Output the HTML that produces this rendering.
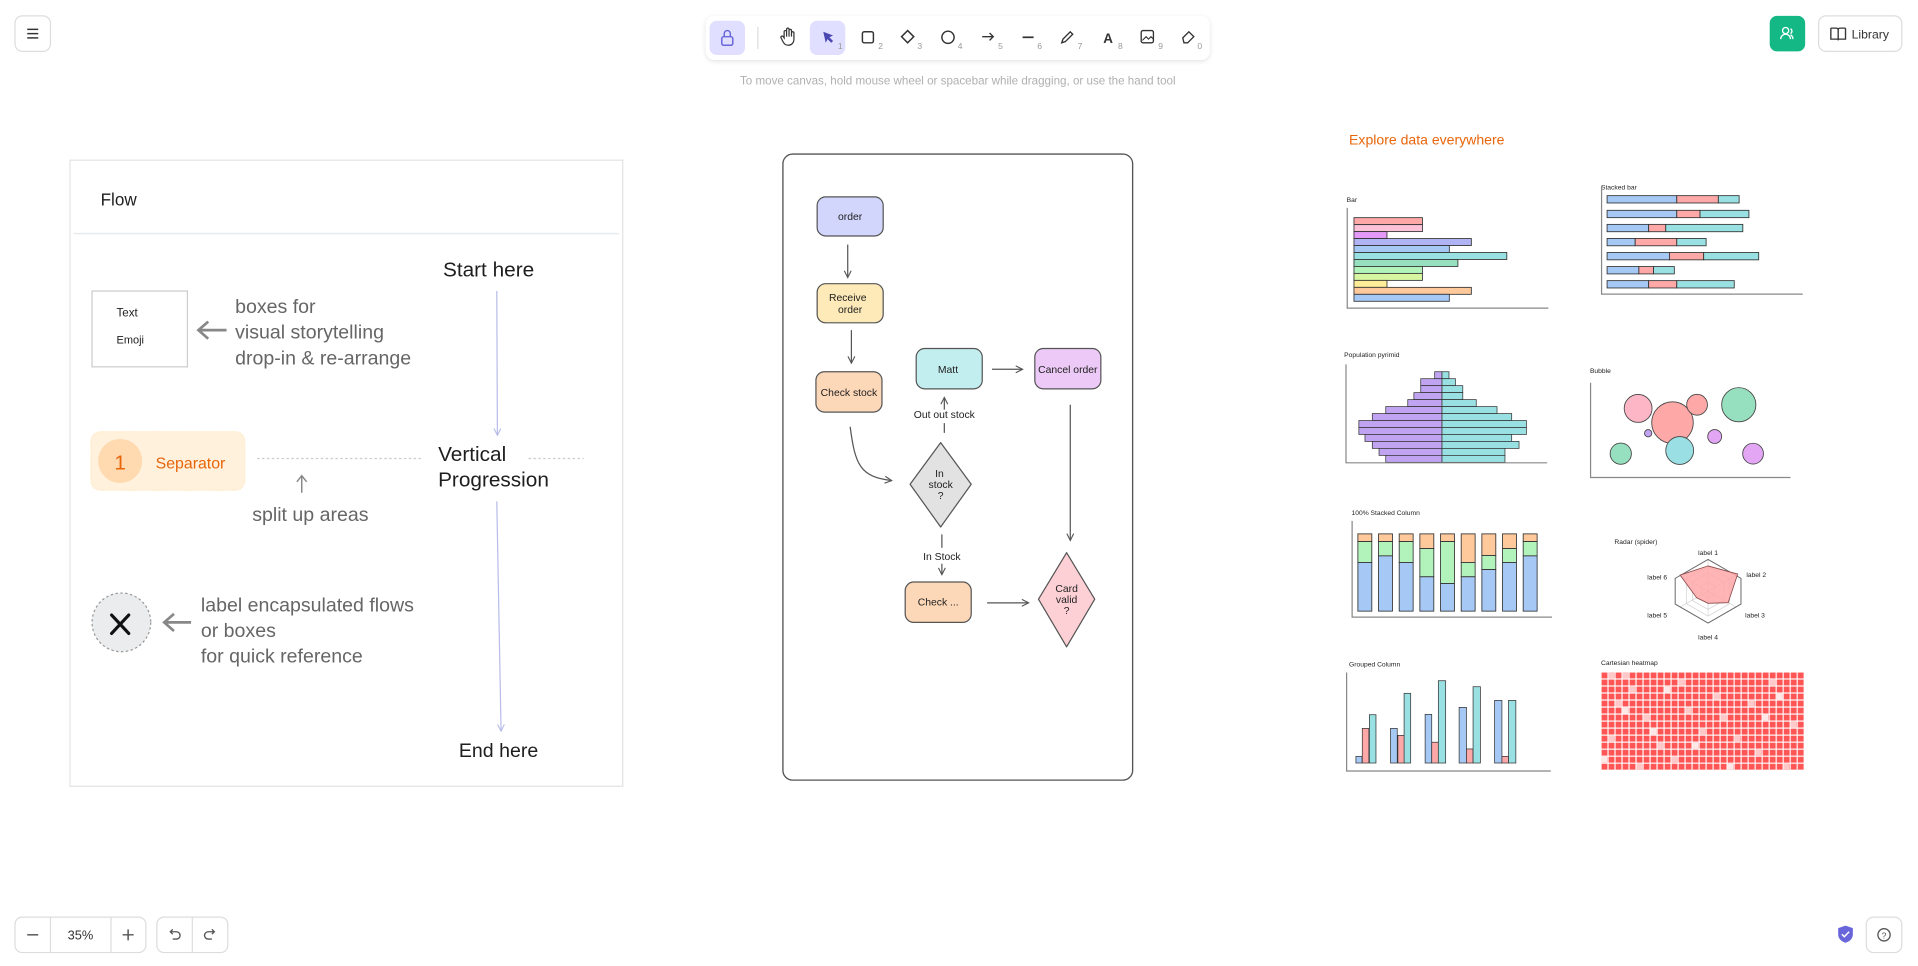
<!DOCTYPE html>
<html><head><meta charset="utf-8"><style>
html,body{margin:0;padding:0;background:#fff;overflow:hidden}
svg{display:block}
text{font-family:"Liberation Sans",sans-serif}
</style></head><body>
<svg width="1918" height="966" viewBox="0 0 1568 790" xmlns="http://www.w3.org/2000/svg">
<defs>
<marker id="ah" viewBox="0 0 10 10" refX="9" refY="5" markerWidth="7" markerHeight="7" orient="auto"><path d="M1 1L9 5L1 9" fill="none" stroke="#555" stroke-width="1.3"/></marker>
<marker id="ahl" viewBox="0 0 10 10" refX="9" refY="5" markerWidth="7" markerHeight="7" orient="auto"><path d="M1 1L9 5L1 9" fill="none" stroke="#b8bde8" stroke-width="1.3"/></marker>
<pattern id="hm" x="1309" y="549.5" width="5.73" height="5.74" patternUnits="userSpaceOnUse"><rect x="0.5" y="0.5" width="4.8" height="4.8" fill="#f55"/></pattern>
<filter id="sh" x="-10%" y="-30%" width="120%" height="160%"><feDropShadow dx="0" dy="1" stdDeviation="2" flood-color="#000" flood-opacity="0.12"/></filter>
</defs>

<!-- Top UI -->
<rect x="12" y="13" width="29" height="29" rx="6" fill="#fff" stroke="#ddd"/>
<g stroke="#333" stroke-width="1.2"><line x1="22" y1="24" x2="31" y2="24"/><line x1="22" y1="27.5" x2="31" y2="27.5"/><line x1="22" y1="31" x2="31" y2="31"/></g>

<rect x="577" y="13" width="412" height="36" rx="7" fill="#fff" filter="url(#sh)"/>
<rect x="580" y="17" width="29" height="28" rx="6" fill="#e0dfff"/>
<rect x="590" y="30" width="9" height="7" rx="1.5" fill="none" stroke="#6965db" stroke-width="1.2"/>
<path d="M592 30v-2.5a2.5 2.5 0 0 1 5 0V30" fill="none" stroke="#6965db" stroke-width="1.2"/>
<line x1="619.5" y1="22" x2="619.5" y2="40" stroke="#ddd"/>
<path d="M641 31v-5a1 1 0 0 1 2 0v4v-6a1 1 0 0 1 2 0v6v-5a1 1 0 0 1 2 0v5v-3a1 1 0 0 1 2 0v5c0 3-2 5-4.5 5s-3.5-1-5-4l-1-2a1 1 0 0 1 1.8-1z" fill="none" stroke="#333" stroke-width="1"/>
<rect x="662" y="17" width="29" height="28" rx="6" fill="#e0dfff"/>
<path d="M673 26l8 3-3 1.5 3 3-1.5 1.5-3-3-1.5 3z" fill="#4a47b1"/>
<text x="685" y="40" font-size="7" fill="#999">1</text>
<rect x="705" y="26" width="9" height="9" rx="1.5" fill="none" stroke="#333" stroke-width="1.2"/><text x="718" y="40" font-size="7" fill="#999">2</text>
<path d="M742 25l5 5-5 5-5-5z" fill="none" stroke="#333" stroke-width="1.2"/><text x="750" y="40" font-size="7" fill="#999">3</text>
<circle cx="775" cy="30.5" r="5" fill="none" stroke="#333" stroke-width="1.2"/><text x="783" y="40" font-size="7" fill="#999">4</text>
<path d="M803 30h9m-3-3l3 3-3 3" fill="none" stroke="#333" stroke-width="1.1"/><text x="816" y="40" font-size="7" fill="#999">5</text>
<line x1="836" y1="30.5" x2="845" y2="30.5" stroke="#333" stroke-width="1.4"/><text x="848" y="40" font-size="7" fill="#999">6</text>
<path d="M868 35l1-3 6-6 2 2-6 6z" fill="none" stroke="#333" stroke-width="1.1"/><text x="881" y="40" font-size="7" fill="#999">7</text>
<text x="906" y="35" font-size="11" text-anchor="middle" fill="#333" font-weight="bold">A</text><text x="914" y="40" font-size="7" fill="#999">8</text>
<rect x="933" y="25" width="10" height="10" rx="1.5" fill="none" stroke="#333" stroke-width="1.1"/><path d="M934 33l3-3 2 2 2-2 2 2" fill="none" stroke="#333" stroke-width="0.9"/><text x="947" y="40" font-size="7" fill="#999">9</text>
<path d="M967 31l5-5 4 4-5 5h-3z" fill="none" stroke="#333" stroke-width="1.1"/><text x="979" y="40" font-size="7" fill="#999">0</text>
<text x="783" y="69" font-size="9.5" text-anchor="middle" fill="#b0b0b0">To move canvas, hold mouse wheel or spacebar while dragging, or use the hand tool</text>

<rect x="1447" y="13" width="29" height="29" rx="6" fill="#13b884"/>
<circle cx="1460" cy="25" r="2.5" fill="none" stroke="#fff" stroke-width="1.1"/><path d="M1456 32a4 4 0 0 1 8 0" fill="none" stroke="#fff" stroke-width="1.1"/><path d="M1464 23.5a2.3 2.3 0 0 1 0 4M1466 32a4 4 0 0 0-2-3.5" fill="none" stroke="#fff" stroke-width="1.1"/>
<rect x="1487" y="13" width="68" height="29" rx="6" fill="#fff" stroke="#ddd"/>
<path d="M1497 23h4.5a1.5 1.5 0 0 1 1.5 1.5V33M1509 23h-4.5a1.5 1.5 0 0 0-1.5 1.5M1497 23v9h6 6v-9" fill="none" stroke="#333" stroke-width="1.1"/>
<text x="1514" y="31.5" font-size="10" fill="#333">Library</text>

<!-- Bottom UI -->
<rect x="12" y="750" width="107" height="29" rx="6" fill="#fff" stroke="#ddd"/>
<line x1="41" y1="750" x2="41" y2="779" stroke="#ddd"/><line x1="90.5" y1="750" x2="90.5" y2="779" stroke="#ddd"/>
<line x1="22" y1="764.5" x2="31" y2="764.5" stroke="#555" stroke-width="1.2"/>
<text x="65.5" y="768.5" font-size="10.5" text-anchor="middle" fill="#333">35%</text>
<path d="M100 764.5h9M104.5 760v9" stroke="#555" stroke-width="1.2"/>
<rect x="128" y="750" width="58" height="29" rx="6" fill="#fff" stroke="#ddd"/>
<line x1="157" y1="750" x2="157" y2="779" stroke="#ddd"/>
<path d="M139 762h5a3 3 0 0 1 0 6h-3M141 760l-2 2 2 2" fill="none" stroke="#555" stroke-width="1.1"/>
<path d="M175 762h-5a3 3 0 0 0 0 6h3M173 760l2 2-2 2" fill="none" stroke="#555" stroke-width="1.1"/>
<path d="M1509 757l6 2v5c0 4-3 6-6 7-3-1-6-3-6-7v-5z" fill="#6965db"/>
<path d="M1506 764l2 2 4-4" fill="none" stroke="#fff" stroke-width="1.2"/>
<rect x="1526" y="750" width="29" height="29" rx="6" fill="#fff" stroke="#ddd"/>
<circle cx="1540.5" cy="764.5" r="5" fill="none" stroke="#555" stroke-width="1.1"/><text x="1540.5" y="767.5" font-size="7" text-anchor="middle" fill="#555">?</text>

<!-- Left panel -->
<rect x="57" y="131" width="452" height="512" fill="none" stroke="#e3e3e3"/>
<text x="82" y="168" font-size="14" fill="#1e1e1e">Flow</text>
<line x1="60" y1="191" x2="506" y2="191" stroke="#e6e9ee" stroke-width="1.2"/>
<text x="362" y="226" font-size="17" fill="#1e1e1e">Start here</text>
<rect x="75" y="238" width="78" height="62" fill="#fff" stroke="#ccc"/>
<text x="95" y="259" font-size="9.5" fill="#1e1e1e">Text</text>
<text x="95" y="281" font-size="9" fill="#1e1e1e">Emoji</text>
<path d="M185 270H162m8-7l-8 7 8 7" fill="none" stroke="#888" stroke-width="2.2"/>
<g font-size="16" fill="#666"><text x="192" y="256">boxes for</text><text x="192" y="277">visual storytelling</text><text x="192" y="298">drop-in &amp; re-arrange</text></g>
<line x1="406" y1="238" x2="406.5" y2="356" stroke="#b8bde8" stroke-width="1" marker-end="url(#ahl)"/>
<rect x="74" y="353" width="126" height="48" rx="8" fill="#fff1dc" stroke="#ffe8c4" stroke-dasharray="1 1"/>
<circle cx="98" cy="377" r="18" fill="#ffd9b0"/>
<text x="98" y="384" font-size="17" text-anchor="middle" fill="#e8650a">1</text>
<text x="127" y="383" font-size="13" fill="#e8650a">Separator</text>
<line x1="210" y1="375" x2="346" y2="375" stroke="#ccc" stroke-dasharray="2 2"/>
<line x1="432" y1="375" x2="477" y2="375" stroke="#ccc" stroke-dasharray="2 2"/>
<text x="358" y="377" font-size="17" fill="#1e1e1e">Vertical</text>
<text x="358" y="398" font-size="17" fill="#1e1e1e">Progression</text>
<path d="M246.5 403v-14m-4 5l4-5 4 5" fill="none" stroke="#888" stroke-width="1.2"/>
<text x="206" y="426" font-size="16" fill="#666">split up areas</text>
<line x1="406" y1="410" x2="409.5" y2="598" stroke="#b8bde8" stroke-width="1" marker-end="url(#ahl)"/>
<text x="375" y="619" font-size="16" fill="#1e1e1e">End here</text>
<circle cx="99" cy="509" r="24" fill="#ebeced" stroke="#999" stroke-dasharray="2 2"/>
<path d="M91 503l14 15M105 503l-14 15" stroke="#111" stroke-width="2.6" stroke-linecap="round"/>
<path d="M156 509H134m8-7l-8 7 8 7" fill="none" stroke="#888" stroke-width="2.2"/>
<g font-size="16" fill="#666"><text x="164" y="500">label encapsulated flows</text><text x="164" y="521">or boxes</text><text x="164" y="542">for quick reference</text></g>

<!-- Flowchart -->
<rect x="640" y="126" width="286" height="512" rx="8" fill="#fff" stroke="#555" stroke-width="1.1"/>
<g stroke="#555" stroke-width="1">
<rect x="668" y="161" width="54" height="32" rx="7" fill="#d2d5fc"/>
<rect x="668" y="232" width="54" height="32" rx="7" fill="#fdeab8"/>
<rect x="667" y="304" width="54" height="33" rx="7" fill="#fdd8b8"/>
<rect x="749" y="285" width="54" height="33" rx="7" fill="#c3eef0"/>
<rect x="846" y="285" width="54" height="33" rx="7" fill="#ecc9f6"/>
<rect x="740" y="476" width="54" height="33" rx="7" fill="#fdd8b8"/>
<path d="M769 362L794 396L769 431L744 396Z" fill="#e2e2e2" stroke-linejoin="round"/>
<path d="M872 452L895 490L872 529L849 490Z" fill="#fdd0d5" stroke-linejoin="round"/>
</g>
<g font-size="8.5" fill="#1e1e1e" text-anchor="middle">
<text x="695" y="180">order</text>
<text x="693" y="246">Receive</text><text x="695" y="256">order</text>
<text x="694" y="324">Check stock</text>
<text x="775" y="305">Matt</text>
<text x="873" y="305">Cancel order</text>
<text x="767" y="495">Check ...</text>
<text x="768" y="390">In</text><text x="769" y="399">stock</text><text x="769" y="408">?</text>
<text x="872" y="484">Card</text><text x="872" y="493">valid</text><text x="872" y="502">?</text>
<text x="772" y="342">Out out stock</text>
<text x="770" y="458">In Stock</text>
</g>
<g fill="none" stroke="#555" stroke-width="1">
<line x1="693" y1="200" x2="693" y2="227" marker-end="url(#ah)"/>
<line x1="696" y1="270" x2="696" y2="297" marker-end="url(#ah)"/>
<path d="M695 349C699 380 703 390 729 393" marker-end="url(#ah)"/>
<line x1="772" y1="354" x2="772" y2="346"/>
<line x1="772" y1="335" x2="772" y2="325" marker-end="url(#ah)"/>
<line x1="811" y1="302" x2="836" y2="302" marker-end="url(#ah)"/>
<line x1="875" y1="331" x2="875" y2="442" marker-end="url(#ah)"/>
<line x1="770" y1="437" x2="770" y2="448"/>
<line x1="770" y1="461" x2="770" y2="470" marker-end="url(#ah)"/>
<line x1="807" y1="493" x2="841" y2="493" marker-end="url(#ah)"/>
</g>

<!-- Charts -->
<text x="1103" y="118" font-size="11.5" fill="#e8650a">Explore data everywhere</text>
<g font-size="5.5" fill="#1e1e1e">
<text x="1101" y="165">Bar</text>
<text x="1309" y="155">Stacked bar</text>
<text x="1099" y="292">Population pyrimid</text>
<text x="1300" y="305">Bubble</text>
<text x="1105" y="421">100% Stacked Column</text>
<text x="1320" y="445">Radar (spider)</text>
<text x="1103" y="545">Grouped Column</text>
<text x="1309" y="544">Cartesian heatmap</text>
</g>
<!-- Bar -->
<g stroke="#333" stroke-width="0.7">
<rect x="1107" y="178" width="56" height="5.7" fill="#ffa8a8"/>
<rect x="1107" y="183.7" width="56" height="5.7" fill="#fcc2d7"/>
<rect x="1107" y="189.4" width="27" height="5.7" fill="#e599f7"/>
<rect x="1107" y="195.1" width="96" height="5.7" fill="#b0b4f5"/>
<rect x="1107" y="200.8" width="78" height="5.7" fill="#a5c8f5"/>
<rect x="1107" y="206.5" width="125" height="5.7" fill="#99e0e3"/>
<rect x="1107" y="212.2" width="85" height="5.7" fill="#96dfbf"/>
<rect x="1107" y="217.9" width="56" height="5.7" fill="#b2f2bb"/>
<rect x="1107" y="223.6" width="56" height="5.7" fill="#d8f5a2"/>
<rect x="1107" y="229.3" width="27" height="5.7" fill="#ffec99"/>
<rect x="1107" y="235" width="96" height="5.7" fill="#ffc99b"/>
<rect x="1107" y="240.7" width="78" height="5.7" fill="#a5c8f5"/>
</g>
<path d="M1101.5 170V252H1266" fill="none" stroke="#888"/>
<!-- Stacked bar -->
<g stroke="#333" stroke-width="0.7">
<rect x="1314" y="160" width="57" height="6" fill="#a5c8f5"/><rect x="1371" y="160" width="34" height="6" fill="#ffa8a8"/><rect x="1405" y="160" width="17" height="6" fill="#99e0e3"/>
<rect x="1314" y="172" width="57" height="6" fill="#a5c8f5"/><rect x="1371" y="172" width="19" height="6" fill="#ffa8a8"/><rect x="1390" y="172" width="40" height="6" fill="#99e0e3"/>
<rect x="1314" y="183.5" width="34" height="6" fill="#a5c8f5"/><rect x="1348" y="183.5" width="14" height="6" fill="#ffa8a8"/><rect x="1362" y="183.5" width="63" height="6" fill="#99e0e3"/>
<rect x="1314" y="195" width="23" height="6" fill="#a5c8f5"/><rect x="1337" y="195" width="34" height="6" fill="#ffa8a8"/><rect x="1371" y="195" width="24" height="6" fill="#99e0e3"/>
<rect x="1314" y="206.5" width="51" height="6" fill="#a5c8f5"/><rect x="1365" y="206.5" width="28" height="6" fill="#ffa8a8"/><rect x="1393" y="206.5" width="45" height="6" fill="#99e0e3"/>
<rect x="1314" y="218" width="26" height="6" fill="#a5c8f5"/><rect x="1340" y="218" width="12" height="6" fill="#ffa8a8"/><rect x="1352" y="218" width="17" height="6" fill="#99e0e3"/>
<rect x="1314" y="229.5" width="34" height="6" fill="#a5c8f5"/><rect x="1348" y="229.5" width="23" height="6" fill="#ffa8a8"/><rect x="1371" y="229.5" width="47" height="6" fill="#99e0e3"/>
</g>
<path d="M1309.5 152V240.5H1474" fill="none" stroke="#888"/>
<!-- Pyramid -->
<g stroke="#333" stroke-width="0.6">
<rect x="1173" y="304" width="6" height="5.7" fill="#c0a4f2"/><rect x="1179" y="304" width="5.7" height="5.7" fill="#99e0e3"/>
<rect x="1161.6" y="309.7" width="17.4" height="5.7" fill="#c0a4f2"/><rect x="1179" y="309.7" width="11" height="5.7" fill="#99e0e3"/>
<rect x="1161.6" y="315.4" width="17.4" height="5.7" fill="#c0a4f2"/><rect x="1179" y="315.4" width="17" height="5.7" fill="#99e0e3"/>
<rect x="1156" y="321.1" width="23" height="5.7" fill="#c0a4f2"/><rect x="1179" y="321.1" width="17" height="5.7" fill="#99e0e3"/>
<rect x="1151" y="326.8" width="28" height="5.7" fill="#c0a4f2"/><rect x="1179" y="326.8" width="28" height="5.7" fill="#99e0e3"/>
<rect x="1133" y="332.5" width="46" height="5.7" fill="#c0a4f2"/><rect x="1179" y="332.5" width="45" height="5.7" fill="#99e0e3"/>
<rect x="1122" y="338.2" width="57" height="5.7" fill="#c0a4f2"/><rect x="1179" y="338.2" width="57" height="5.7" fill="#99e0e3"/>
<rect x="1111" y="343.9" width="68" height="5.7" fill="#c0a4f2"/><rect x="1179" y="343.9" width="69" height="5.7" fill="#99e0e3"/>
<rect x="1111" y="349.6" width="68" height="5.7" fill="#c0a4f2"/><rect x="1179" y="349.6" width="69" height="5.7" fill="#99e0e3"/>
<rect x="1116" y="355.3" width="63" height="5.7" fill="#c0a4f2"/><rect x="1179" y="355.3" width="57" height="5.7" fill="#99e0e3"/>
<rect x="1122" y="361" width="57" height="5.7" fill="#c0a4f2"/><rect x="1179" y="361" width="63" height="5.7" fill="#99e0e3"/>
<rect x="1127.5" y="366.7" width="51.5" height="5.7" fill="#c0a4f2"/><rect x="1179" y="366.7" width="51.5" height="5.7" fill="#99e0e3"/>
<rect x="1133" y="372.4" width="46" height="5.7" fill="#c0a4f2"/><rect x="1179" y="372.4" width="51.5" height="5.7" fill="#99e0e3"/>
</g>
<path d="M1100.5 298V378.5H1265" fill="none" stroke="#888"/>
<!-- Bubble -->
<g stroke="#444" stroke-width="0.7">
<circle cx="1339.4" cy="334" r="11.4" fill="#fcb6c6"/>
<circle cx="1367.5" cy="345.6" r="17" fill="#ffa8a8"/>
<circle cx="1387.6" cy="331" r="8.5" fill="#ffa8a8"/>
<circle cx="1421.7" cy="331" r="14" fill="#96dfbf"/>
<circle cx="1347.6" cy="354.3" r="3" fill="#c0a4f2"/>
<circle cx="1402" cy="357" r="5.7" fill="#e3a6f5"/>
<circle cx="1325.2" cy="371" r="8.7" fill="#96dfbf"/>
<circle cx="1373.4" cy="368.4" r="11.4" fill="#99dfe3"/>
<circle cx="1433.4" cy="371" r="8.5" fill="#e3a6f5"/>
</g>
<path d="M1300.5 313V390.5H1464" fill="none" stroke="#888"/>
<!-- 100% stacked column -->
<g stroke="#333" stroke-width="0.7">
<rect x="1110.2" y="436.6" width="11.4" height="6.3" fill="#ffc99b"/><rect x="1110.2" y="442.9" width="11.4" height="17.1" fill="#b2f2bb"/><rect x="1110.2" y="460" width="11.4" height="39.8" fill="#a5c8f5"/>
<rect x="1127.1" y="436.6" width="11.4" height="6.3" fill="#ffc99b"/><rect x="1127.1" y="442.9" width="11.4" height="11.7" fill="#b2f2bb"/><rect x="1127.1" y="454.6" width="11.4" height="45.2" fill="#a5c8f5"/>
<rect x="1144" y="436.6" width="11.4" height="6.3" fill="#ffc99b"/><rect x="1144" y="442.9" width="11.4" height="17.1" fill="#b2f2bb"/><rect x="1144" y="460" width="11.4" height="39.8" fill="#a5c8f5"/>
<rect x="1160.9" y="436.6" width="11.4" height="12" fill="#ffc99b"/><rect x="1160.9" y="448.6" width="11.4" height="23.1" fill="#b2f2bb"/><rect x="1160.9" y="471.7" width="11.4" height="28.1" fill="#a5c8f5"/>
<rect x="1177.8" y="436.6" width="11.4" height="6.3" fill="#ffc99b"/><rect x="1177.8" y="442.9" width="11.4" height="34.3" fill="#b2f2bb"/><rect x="1177.8" y="477.2" width="11.4" height="22.6" fill="#a5c8f5"/>
<rect x="1194.7" y="436.6" width="11.4" height="23.4" fill="#ffc99b"/><rect x="1194.7" y="460" width="11.4" height="11.7" fill="#b2f2bb"/><rect x="1194.7" y="471.7" width="11.4" height="28.1" fill="#a5c8f5"/>
<rect x="1211.6" y="436.6" width="11.4" height="17.7" fill="#ffc99b"/><rect x="1211.6" y="454.3" width="11.4" height="11.5" fill="#b2f2bb"/><rect x="1211.6" y="465.8" width="11.4" height="34" fill="#a5c8f5"/>
<rect x="1228.5" y="436.6" width="11.4" height="12" fill="#ffc99b"/><rect x="1228.5" y="448.6" width="11.4" height="11.4" fill="#b2f2bb"/><rect x="1228.5" y="460" width="11.4" height="39.8" fill="#a5c8f5"/>
<rect x="1245.4" y="436.6" width="11.4" height="6.3" fill="#ffc99b"/><rect x="1245.4" y="442.9" width="11.4" height="11.7" fill="#b2f2bb"/><rect x="1245.4" y="454.6" width="11.4" height="45.2" fill="#a5c8f5"/>
</g>
<path d="M1105.5 426V504.7H1269" fill="none" stroke="#888"/>
<!-- Radar -->
<g fill="none" stroke="#ccc" stroke-width="0.5">
<path d="M1396.6 468.6L1409.5 476L1409.5 491L1396.6 498.4L1383.7 491L1383.7 476Z"/>
<path d="M1396.6 463.1L1414.3 473.3L1414.3 493.7L1396.6 503.9L1378.9 493.7L1378.9 473.3Z"/>
<path d="M1396.6 476L1402 479.3L1402 485.7L1396.6 489L1391.2 485.7L1391.2 479.3Z"/>
<path d="M1396.6 483.5v20M1396.6 483.5l23 -13M1396.6 483.5l23 13M1396.6 483.5l-23 13M1396.6 483.5l-23 -13M1396.6 483.5v-26"/>
</g>
<path d="M1396.6 457.5L1423.5 473L1423.5 494L1396.6 509.5L1369.7 494L1369.7 473Z" fill="none" stroke="#666" stroke-width="0.8"/>
<path d="M1396.6 462.8L1420.8 469.5L1413 492.9L1396.6 493.4L1387.3 488.9L1373.7 470.3Z" fill="#ffa8a8" fill-opacity="0.85" stroke="#8a4a4a" stroke-width="0.7"/>
<g font-size="5.5" fill="#1e1e1e" text-anchor="middle">
<text x="1396.6" y="454">label 1</text><text x="1436" y="472">label 2</text><text x="1435" y="505">label 3</text>
<text x="1396.6" y="523">label 4</text><text x="1355" y="505">label 5</text><text x="1355" y="474">label 6</text>
</g>
<!-- Grouped column -->
<g stroke="#333" stroke-width="0.6">
<rect x="1108.6" y="618.6" width="5" height="5.4" fill="#a5c8f5"/><rect x="1113.8" y="595.7" width="5.4" height="28.3" fill="#ffa8a8"/><rect x="1119.6" y="584.5" width="5.4" height="39.5" fill="#99e0e3"/>
<rect x="1136.9" y="595.7" width="5.5" height="28.3" fill="#a5c8f5"/><rect x="1142.9" y="601.4" width="5.4" height="22.6" fill="#ffa8a8"/><rect x="1148" y="567" width="5.4" height="57" fill="#99e0e3"/>
<rect x="1165.2" y="584.2" width="5.4" height="39.8" fill="#a5c8f5"/><rect x="1170.6" y="607" width="5.4" height="17" fill="#ffa8a8"/><rect x="1176" y="556.7" width="6" height="67.3" fill="#99e0e3"/>
<rect x="1193" y="578.5" width="6" height="45.5" fill="#a5c8f5"/><rect x="1199" y="612.5" width="5.4" height="11.5" fill="#ffa8a8"/><rect x="1204.4" y="561.6" width="6" height="62.4" fill="#99e0e3"/>
<rect x="1222" y="572.8" width="6" height="51.2" fill="#a5c8f5"/><rect x="1228" y="618.6" width="5.4" height="5.4" fill="#ffa8a8"/><rect x="1233.4" y="572.8" width="6" height="51.2" fill="#99e0e3"/>
</g>
<path d="M1101 550V630.5H1268" fill="none" stroke="#888"/>
<!-- Heatmap -->
<rect x="1308.5" y="549" width="166.7" height="81" fill="#fff"/>
<rect x="1309" y="549.5" width="166.2" height="80.4" fill="url(#hm)"/>
<g fill="#ffc9c9">
<rect x="1315" y="550" width="4.8" height="4.8"/><rect x="1326.5" y="550" width="4.8" height="4.8"/><rect x="1372.3" y="555.7" width="4.8" height="4.8"/>
<rect x="1447" y="555.7" width="4.8" height="4.8"/><rect x="1332.2" y="561.5" width="4.8" height="4.8"/><rect x="1401" y="567.2" width="4.8" height="4.8"/>
<rect x="1320.8" y="573" width="4.8" height="4.8"/><rect x="1429.5" y="573" width="4.8" height="4.8"/><rect x="1378" y="578.7" width="4.8" height="4.8"/>
<rect x="1343.7" y="584.4" width="4.8" height="4.8"/><rect x="1464" y="590.2" width="4.8" height="4.8"/><rect x="1389.5" y="595.9" width="4.8" height="4.8"/>
<rect x="1315" y="601.6" width="4.8" height="4.8"/><rect x="1418" y="601.6" width="4.8" height="4.8"/><rect x="1355.2" y="607.4" width="4.8" height="4.8"/>
<rect x="1435.3" y="613.1" width="4.8" height="4.8"/><rect x="1366.6" y="618.8" width="4.8" height="4.8"/><rect x="1458.2" y="624.6" width="4.8" height="4.8"/>
<rect x="1338" y="624.6" width="4.8" height="4.8"/><rect x="1406.8" y="584.4" width="4.8" height="4.8"/>
</g>
<g fill="#ffe8e8">
<rect x="1360.9" y="561.5" width="4.8" height="4.8"/><rect x="1452.7" y="567.2" width="4.8" height="4.8"/><rect x="1326.5" y="578.7" width="4.8" height="4.8"/>
<rect x="1441" y="584.4" width="4.8" height="4.8"/><rect x="1383.8" y="607.4" width="4.8" height="4.8"/><rect x="1309.3" y="618.8" width="4.8" height="4.8"/>
<rect x="1412.4" y="624.6" width="4.8" height="4.8"/><rect x="1349.5" y="595.9" width="4.8" height="4.8"/>
</g>
</svg>
</body></html>
